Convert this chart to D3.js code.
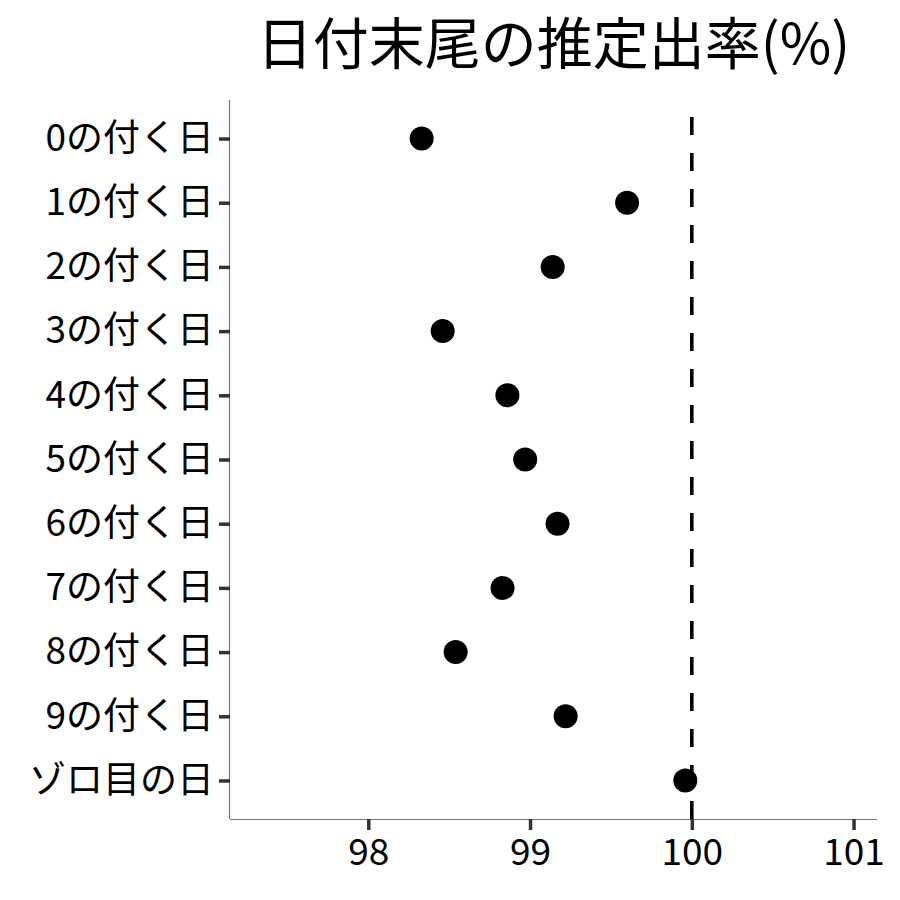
<!DOCTYPE html>
<html>
<head>
<meta charset="utf-8">
<script src="https://cdn.jsdelivr.net/npm/d3@7"></script>
<style>
  body { margin: 0; background: #fff; }
  svg { display: block; font-family: "Noto Sans CJK JP", "Noto Sans", sans-serif; }
</style>
</head>
<body>
<svg width="900" height="900"></svg>
<script>
var categories = ["0の付く日", "1の付く日", "2の付く日", "3の付く日", "4の付く日",
                  "5の付く日", "6の付く日", "7の付く日", "8の付く日", "9の付く日", "ゾロ目の日"];
var rates = [98.33, 99.60, 99.14, 98.46, 98.86, 98.97, 99.17, 98.83, 98.54, 99.22, 99.96];
var xTicks = [98, 99, 100, 101];
var refValue = 100;
var title = "日付末尾の推定出率(%)";

var svg = d3.select("svg"),
    margin = {top: 100, right: 23, bottom: 81, left: 230},
    width = +svg.attr("width") - margin.left - margin.right,
    height = +svg.attr("height") - margin.top - margin.bottom;

var x = d3.scaleLinear().domain([97.145, 101.145]).range([0, width]),
    y = d3.scalePoint().domain(categories).range([0, height]).padding(0.6);

var g = svg.append("g")
    .attr("transform", "translate(" + margin.left + "," + margin.top + ")");

// reference line at 100
g.append("line")
    .attr("x1", x(refValue)).attr("x2", x(refValue))
    .attr("y1", height).attr("y2", 0)
    .attr("stroke", "#000")
    .attr("stroke-width", 3.6)
    .attr("stroke-dasharray", "18,18");

var xAxis = d3.axisBottom(x).tickValues(xTicks).tickSize(11).tickPadding(9).tickFormat(d3.format("d"));
var yAxis = d3.axisLeft(y).tickSize(11).tickPadding(5);

var gx = g.append("g")
    .attr("transform", "translate(0," + height + ")")
    .call(xAxis);

var gy = g.append("g").call(yAxis);

[gx, gy].forEach(function(a) {
  a.select(".domain").attr("stroke", "#777").attr("stroke-width", 1.2)
    .attr("d", a === gx ? "M0,0.5H" + width : "M-0.5,0V" + height);
  a.selectAll(".tick line").attr("stroke", "#333").attr("stroke-width", 3.5);
  a.selectAll(".tick text")
    .attr("fill", "#000")
    .style("font-size", "37px")
    .style("font-family", "'Noto Sans CJK JP', sans-serif");
});

g.selectAll("circle.pt")
    .data(rates)
    .enter().append("circle")
    .attr("class", "pt")
    .attr("cx", function(d) { return x(d); })
    .attr("cy", function(d, i) { return y(categories[i]); })
    .attr("r", 12)
    .attr("fill", "#000");

svg.append("text")
    .attr("x", margin.left + width / 2)
    .attr("y", 64)
    .attr("text-anchor", "middle")
    .style("font-size", "56px")
    .style("font-family", "'Noto Sans CJK JP', sans-serif")
    .attr("fill", "#000")
    .text(title);
</script>
</body>
</html>
